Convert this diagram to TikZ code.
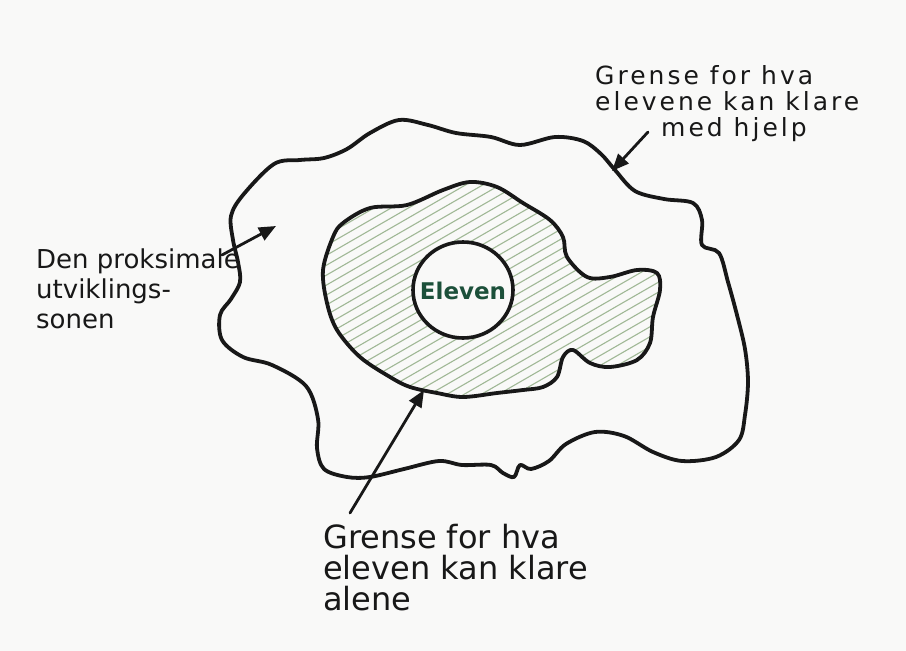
\documentclass[tikz,border=0pt]{standalone}
\usepackage{fontspec}
\newfontfamily\hand{DejaVu Sans}
\newfontfamily\handwide[LetterSpace=12]{DejaVu Sans}
\usetikzlibrary{arrows.meta,shapes.geometric}
\definecolor{paper}{RGB}{249,249,248}
\definecolor{ink}{RGB}{24,24,24}
\definecolor{hatchc}{RGB}{160,184,150}
\definecolor{elevc}{RGB}{28,80,58}
\begin{document}
\begin{tikzpicture}[x=1pt,y=-1pt,
  blob/.style={draw=ink,line width=3.8pt,line join=round},
  hatch/.style={draw=hatchc,line width=1.1pt},
  pointer/.style={draw=ink,line width=2.8pt,line cap=round,-{Triangle[length=17pt,width=14pt]}},
  label/.style={font=\hand,text=ink,inner sep=0pt,align=left,anchor=base west}]
\useasboundingbox (0,0) rectangle (906,651);
\fill[paper] (0,0) rectangle (906,651);
% outer boundary
\draw[blob] plot[smooth cycle,tension=0.55] coordinates {
 (274,164) (300,160) (324,158) (347,149) (370,133) (399,120) (428,125) (456,133)
 (491,137) (520,145) (555,137) (583,141) (601,154) (615,170) (635,191) (664,199)
 (693,203) (702,220) (702,245) (719,253) (728,282) (737,315) (745,349) (748,382)
 (745,415) (739,440) (716,457) (682,461) (653,452) (624,436) (595,432) (566,444)
 (549,461) (531,469) (520,465) (514,477) (503,473) (491,465) (462,465) (439,461)
 (404,469) (370,477) (347,477) (324,469) (317,448) (318,419) (306,386) (272,365)
 (243,357) (222,340) (220,315) (231,299) (240,282) (238,262) (233,240) (231,216)
 (243,195)};
% inner region with hatching
\begin{scope}
\clip plot[smooth cycle,tension=0.55] coordinates {
 (343,223) (370,208) (407,205) (443,190) (470,182) (497,187) (523,203) (550,220)
 (563,237) (567,257) (587,277) (610,277) (637,270) (657,273) (660,290) (653,317)
 (650,343) (637,360) (610,367) (590,363) (573,350) (563,357) (557,377) (543,387)
 (523,390) (497,393) (463,397) (437,393) (410,387) (390,377) (360,357) (337,330)
 (327,303) (323,270) (333,237)};
\foreach \k in {-28,...,28}
  \draw[hatch] ({490+\k*4.3-260},{290+\k*7.45+150}) -- ++(520,-300);
\end{scope}
\draw[blob] plot[smooth cycle,tension=0.55] coordinates {
 (343,223) (370,208) (407,205) (443,190) (470,182) (497,187) (523,203) (550,220)
 (563,237) (567,257) (587,277) (610,277) (637,270) (657,273) (660,290) (653,317)
 (650,343) (637,360) (610,367) (590,363) (573,350) (563,357) (557,377) (543,387)
 (523,390) (497,393) (463,397) (437,393) (410,387) (390,377) (360,357) (337,330)
 (327,303) (323,270) (333,237)};
% the pupil
\node (eleven) [ellipse,draw=ink,line width=3.6pt,fill=paper,minimum width=100pt,minimum height=96pt,inner sep=0pt] at (463,290) {};
\node (elevtxt) [font=\hand\bfseries\fontsize{23}{26}\selectfont,text=elevc,inner sep=0pt] at (463,291) {Eleven};
% labels (anchored at the baseline of the last line)
\node (zpd) [label,font=\hand\fontsize{26}{30}\selectfont] at (36,328) {Den proksimale\\utviklings-\\sonen};
\node (withhelp) [label,font=\handwide\fontsize{25}{26}\selectfont] at (595,136) {Grense for hva\\elevene kan klare\\\hspace*{66pt}med hjelp};
\node (alone) [label,font=\hand\fontsize{32}{31}\selectfont] at (323,610) {Grense for hva\\eleven kan klare\\alene};
% arrows
\coordinate (zpdtail) at (222,255);
\coordinate (zpdhead) at (276,226);
\coordinate (helptail) at (648,132);
\coordinate (helphead) at (612,171);
\coordinate (alonetail) at (350,513);
\coordinate (alonehead) at (424,390);
\draw[pointer] (zpdtail) -- (zpdhead);
\draw[pointer] (helptail) -- (helphead);
\draw[pointer] (alonetail) -- (alonehead);
\end{tikzpicture}
\end{document}
